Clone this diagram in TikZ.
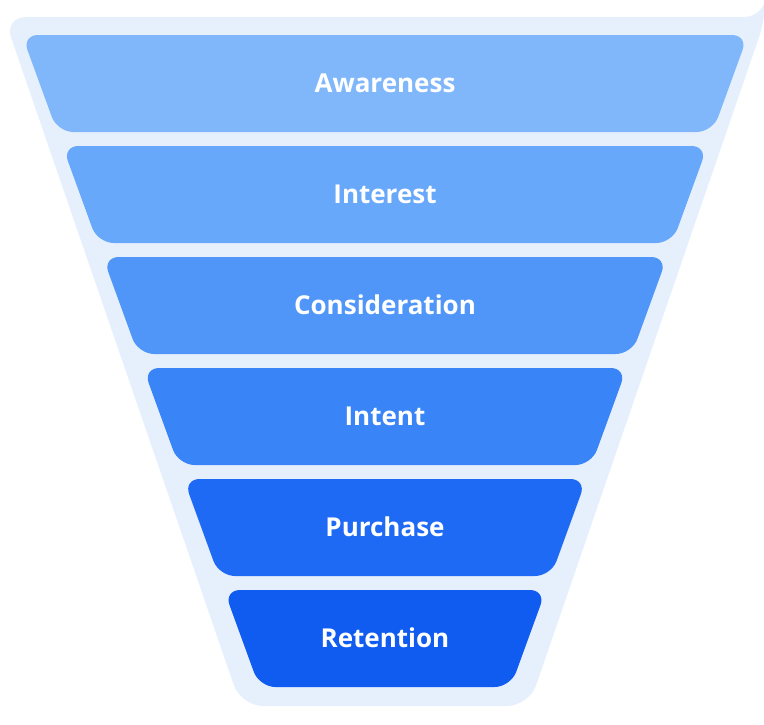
\documentclass[tikz,border=0pt]{standalone}
\usepackage{fontspec}
\setmainfont{Open Sans}
\definecolor{bgc}{HTML}{E6F0FD}
\definecolor{c1}{HTML}{80B7FB}
\definecolor{c2}{HTML}{67A8FA}
\definecolor{c3}{HTML}{4F96F8}
\definecolor{c4}{HTML}{3984F7}
\definecolor{c5}{HTML}{1F6AF5}
\definecolor{c6}{HTML}{105CF0}
\tikzset{x=1pt,y=-1pt,
  lbl/.style={text=white,font=\bfseries\fontsize{26}{30}\selectfont}}
\begin{document}
\begin{tikzpicture}
\useasboundingbox (0,0) rectangle (764,724);
\fill[bgc,rounded corners=22] (4,17) -- (766,17) -- (766-0.364*0-0,17) -- (529,706) -- (241,706) -- cycle;
\foreach \i/\t/\c in {0/Awareness/c1,1/Interest/c2,2/Consideration/c3,3/Intent/c4,4/Purchase/c5,5/Retention/c6}{
  \pgfmathsetmacro\ya{35+111*\i}
  \pgfmathsetmacro\yb{\ya+97}
  \pgfmathsetmacro\xa{22+0.364*(\ya-35)}
  \pgfmathsetmacro\xb{22+0.364*(\yb-35)}
  \fill[\c,rounded corners=16] (\xa,\ya) -- (770-\xa,\ya) -- (770-\xb,\yb) -- (\xb,\yb) -- cycle;
  \node[lbl] (n\i) at (385,\ya+48) {\t};
}
\end{tikzpicture}
\end{document}
